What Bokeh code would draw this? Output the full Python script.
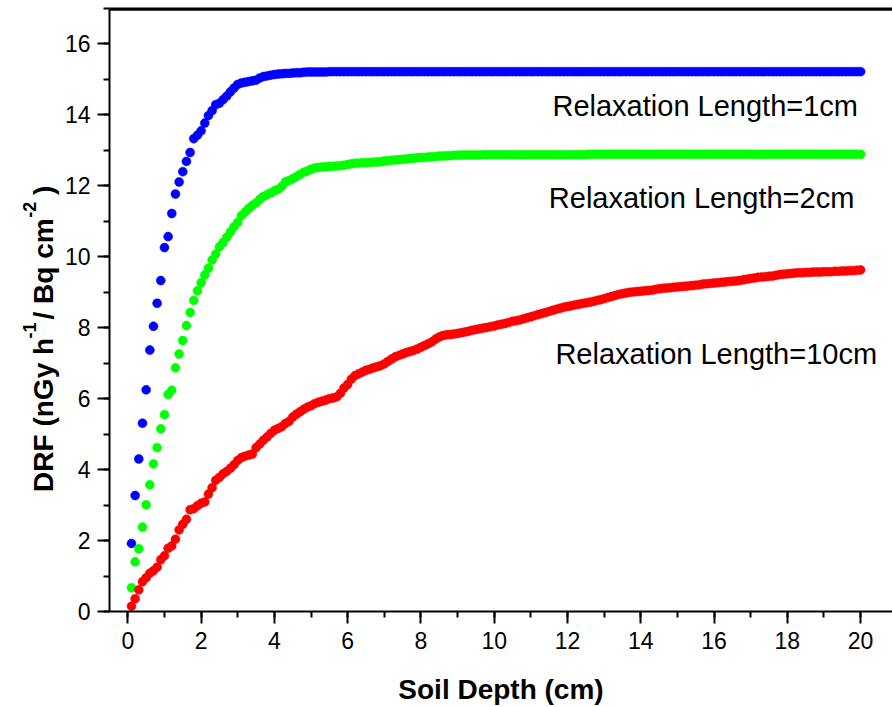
import math
from bokeh.plotting import figure
from bokeh.layouts import row
from bokeh.models import Range1d, SingleIntervalTicker, FixedTicker, Label, LinearAxis, Span
from bokeh.embed import file_html
from bokeh.resources import INLINE

# Soil depth grid (cm), 0.1 cm steps
depth = [round(0.1 * i, 1) for i in range(1, 201)]

drf_rl1 = [
    1.92, 3.27, 4.30, 5.31, 6.25, 7.37, 8.04, 8.69, 9.33, 10.26,
    10.57, 11.22, 11.77, 12.11, 12.40, 12.69, 12.94, 13.33, 13.43, 13.55,
    13.77, 13.98, 14.12, 14.29, 14.33, 14.43, 14.53, 14.65, 14.76, 14.86,
    14.90, 14.92, 14.94, 14.96, 14.98, 15.04, 15.08, 15.10, 15.12, 15.14,
    15.15, 15.16, 15.17, 15.17, 15.18, 15.19, 15.19, 15.20, 15.21, 15.21,
    15.21, 15.21, 15.21, 15.21, 15.22, 15.22, 15.22, 15.22, 15.22, 15.22,
    15.22, 15.22, 15.22, 15.22, 15.22, 15.22, 15.22, 15.22, 15.22, 15.22,
    15.22, 15.22, 15.22, 15.22, 15.22, 15.22, 15.22, 15.22, 15.22, 15.22,
    15.22, 15.22, 15.22, 15.22, 15.22, 15.22, 15.22, 15.22, 15.22, 15.22,
    15.22, 15.22, 15.22, 15.22, 15.22, 15.22, 15.22, 15.22, 15.22, 15.22,
    15.22, 15.22, 15.22, 15.22, 15.22, 15.22, 15.22, 15.22, 15.22, 15.22,
    15.22, 15.22, 15.22, 15.22, 15.22, 15.22, 15.22, 15.22, 15.22, 15.22,
    15.22, 15.22, 15.22, 15.22, 15.22, 15.22, 15.22, 15.22, 15.22, 15.22,
    15.22, 15.22, 15.22, 15.22, 15.22, 15.22, 15.22, 15.22, 15.22, 15.22,
    15.22, 15.22, 15.22, 15.22, 15.22, 15.22, 15.22, 15.22, 15.22, 15.22,
    15.22, 15.22, 15.22, 15.22, 15.22, 15.22, 15.22, 15.22, 15.22, 15.22,
    15.22, 15.22, 15.22, 15.22, 15.22, 15.22, 15.22, 15.22, 15.22, 15.22,
    15.22, 15.22, 15.22, 15.22, 15.22, 15.22, 15.22, 15.22, 15.22, 15.22,
    15.22, 15.22, 15.22, 15.22, 15.22, 15.22, 15.22, 15.22, 15.22, 15.22,
    15.22, 15.22, 15.22, 15.22, 15.22, 15.22, 15.22, 15.22, 15.22, 15.22,
]

drf_rl2 = [
    0.67, 1.40, 1.77, 2.38, 3.01, 3.57, 4.16, 4.62, 5.15, 5.55,
    6.12, 6.24, 6.87, 7.26, 7.64, 8.06, 8.43, 8.77, 9.04, 9.27,
    9.49, 9.68, 9.91, 10.08, 10.28, 10.40, 10.55, 10.70, 10.85, 10.97,
    11.16, 11.26, 11.36, 11.45, 11.52, 11.62, 11.70, 11.75, 11.80, 11.86,
    11.90, 11.98, 12.11, 12.15, 12.20, 12.26, 12.32, 12.38, 12.42, 12.47,
    12.50, 12.52, 12.53, 12.54, 12.55, 12.55, 12.56, 12.57, 12.58, 12.60,
    12.62, 12.64, 12.64, 12.65, 12.65, 12.66, 12.67, 12.67, 12.68, 12.70,
    12.71, 12.72, 12.73, 12.74, 12.75, 12.76, 12.77, 12.78, 12.79, 12.80,
    12.80, 12.81, 12.82, 12.83, 12.84, 12.84, 12.85, 12.85, 12.86, 12.86,
    12.87, 12.87, 12.87, 12.87, 12.87, 12.87, 12.88, 12.88, 12.88, 12.88,
    12.88, 12.88, 12.88, 12.88, 12.88, 12.88, 12.88, 12.88, 12.88, 12.88,
    12.88, 12.88, 12.88, 12.88, 12.88, 12.88, 12.88, 12.88, 12.88, 12.88,
    12.88, 12.88, 12.88, 12.88, 12.88, 12.89, 12.89, 12.89, 12.89, 12.89,
    12.89, 12.89, 12.89, 12.89, 12.89, 12.89, 12.89, 12.89, 12.89, 12.89,
    12.89, 12.89, 12.89, 12.89, 12.89, 12.89, 12.89, 12.89, 12.89, 12.89,
    12.89, 12.89, 12.89, 12.89, 12.89, 12.89, 12.89, 12.89, 12.89, 12.89,
    12.89, 12.89, 12.89, 12.89, 12.89, 12.89, 12.89, 12.89, 12.89, 12.89,
    12.89, 12.89, 12.89, 12.89, 12.89, 12.89, 12.89, 12.89, 12.89, 12.89,
    12.89, 12.89, 12.89, 12.89, 12.89, 12.89, 12.89, 12.89, 12.89, 12.89,
    12.89, 12.89, 12.89, 12.89, 12.89, 12.89, 12.89, 12.89, 12.89, 12.89,
]

drf_rl10 = [
    0.15, 0.36, 0.61, 0.84, 0.95, 1.08, 1.15, 1.25, 1.46, 1.57,
    1.78, 1.85, 2.04, 2.30, 2.46, 2.60, 2.87, 2.90, 2.98, 3.05,
    3.09, 3.31, 3.49, 3.70, 3.78, 3.88, 3.95, 4.04, 4.14, 4.26,
    4.34, 4.38, 4.41, 4.44, 4.62, 4.72, 4.83, 4.92, 5.02, 5.11,
    5.16, 5.21, 5.30, 5.36, 5.48, 5.56, 5.63, 5.70, 5.76, 5.80,
    5.86, 5.90, 5.93, 5.96, 6.00, 6.02, 6.05, 6.15, 6.30, 6.40,
    6.55, 6.65, 6.70, 6.75, 6.80, 6.83, 6.87, 6.90, 6.93, 6.98,
    7.05, 7.12, 7.18, 7.22, 7.26, 7.30, 7.33, 7.36, 7.40, 7.45,
    7.50, 7.55, 7.60, 7.68, 7.74, 7.78, 7.80, 7.81, 7.82, 7.84,
    7.86, 7.88, 7.90, 7.93, 7.95, 7.97, 7.99, 8.01, 8.03, 8.05,
    8.08, 8.10, 8.12, 8.15, 8.18, 8.20, 8.22, 8.25, 8.28, 8.31,
    8.34, 8.37, 8.40, 8.43, 8.46, 8.49, 8.52, 8.55, 8.58, 8.60,
    8.62, 8.64, 8.66, 8.68, 8.70, 8.72, 8.74, 8.77, 8.79, 8.82,
    8.85, 8.88, 8.91, 8.94, 8.96, 8.98, 9.00, 9.01, 9.02, 9.03,
    9.04, 9.05, 9.06, 9.08, 9.10, 9.11, 9.12, 9.13, 9.14, 9.15,
    9.16, 9.17, 9.18, 9.19, 9.20, 9.21, 9.23, 9.24, 9.25, 9.26,
    9.27, 9.28, 9.29, 9.30, 9.31, 9.32, 9.33, 9.35, 9.37, 9.39,
    9.40, 9.42, 9.43, 9.44, 9.45, 9.46, 9.48, 9.50, 9.51, 9.52,
    9.53, 9.54, 9.55, 9.55, 9.56, 9.56, 9.57, 9.57, 9.57, 9.58,
    9.58, 9.58, 9.59, 9.59, 9.60, 9.60, 9.61, 9.61, 9.62, 9.63,
]

series_labels = ["Relaxation Length=1cm", "Relaxation Length=2cm", "Relaxation Length=10cm"]
series_colors = ["#0000FF", "#00FF00", "#FF0000"]

FONT = "Liberation Sans"
LEFT_W = 60
FRAME_TOP = 8
FRAME_BOTTOM = 613

p = figure(width=892 - LEFT_W, height=707, output_backend="svg", toolbar_location=None,
           x_range=Range1d(-0.5, 20.87), y_range=Range1d(0, 17),
           min_border_left=109 - LEFT_W, min_border_right=0, min_border_top=FRAME_TOP,
           min_border_bottom=707 - FRAME_BOTTOM)
p.background_fill_color = "white"
p.border_fill_color = "white"
p.outline_line_color = None
p.xgrid.visible = False
p.ygrid.visible = False

for ys, c in zip([drf_rl1, drf_rl2, drf_rl10], series_colors):
    p.scatter(depth, ys, size=9, fill_color=c, line_color=c, line_width=0.5)

xb = p.below[0]
yl = p.left[0]
for ax in (xb, yl):
    ax.ticker = SingleIntervalTicker(interval=2, num_minor_ticks=2)
    ax.axis_line_width = 2
    ax.axis_line_color = "black"
    ax.major_tick_line_width = 2
    ax.minor_tick_line_width = 2
    ax.major_tick_line_color = "black"
    ax.minor_tick_line_color = "black"
    ax.major_tick_in = 0
    ax.major_tick_out = 12
    ax.minor_tick_in = 0
    ax.minor_tick_out = 6
    ax.major_label_text_font = FONT
    ax.major_label_text_font_size = "23px"
    ax.major_label_text_color = "black"
xb.major_label_standoff = 8
yl.major_label_standoff = 7

xb.axis_label = "Soil Depth (cm)"
xb.axis_label_text_font = FONT
xb.axis_label_text_font_size = "28px"
xb.axis_label_text_font_style = "bold"
xb.axis_label_text_color = "black"
xb.axis_label_standoff = 22

# top frame line (axis without ticks, plus a span just inside the frame)
top = LinearAxis(ticker=FixedTicker(ticks=[]), axis_line_width=2, axis_line_color="black",
                 major_tick_line_color=None, minor_tick_line_color=None,
                 major_label_standoff=0)
p.add_layout(top, "above")
p.add_layout(Span(location=16.97, dimension="width", line_color="black", line_width=2.5))

label_pos = [(11.59, 14.25), (11.49, 11.67), (11.67, 7.26)]
for txt, (lx, ly) in zip(series_labels, label_pos):
    p.add_layout(Label(x=lx, y=ly, text=txt, text_font=FONT, text_font_size="29px",
                       text_color="black", text_align="left", text_baseline="alphabetic"))

# y-axis title panel (its frame is aligned with the main frame; y in page pixels)
lab = figure(width=LEFT_W, height=707, output_backend="svg", toolbar_location=None,
             x_range=Range1d(0, LEFT_W), y_range=Range1d(FRAME_BOTTOM, FRAME_TOP),
             min_border_left=0, min_border_right=0, min_border_top=FRAME_TOP,
             min_border_bottom=707 - FRAME_BOTTOM)
lab.axis.visible = False
lab.grid.visible = False
lab.outline_line_color = None
lab.background_fill_color = "white"
lab.border_fill_color = "white"

ytitle = [
    ("DRF (nGy h", 493, "28px", 42.5),
    ("-1", 339, "18px", 29),
    ("/ Bq cm", 320, "28px", 42.5),
    ("-2", 218, "18px", 29),
    (")", 195, "28px", 42.5),
]
for txt, py, fs, px in ytitle:
    lab.add_layout(Label(x=px, y=py, text=txt, angle=math.pi / 2,
                         text_font=FONT, text_font_size=fs, text_font_style="bold",
                         text_color="black", text_align="left", text_baseline="alphabetic"))

layout = row(lab, p, spacing=0)
open("out.html", "w").write(file_html(layout, INLINE))
